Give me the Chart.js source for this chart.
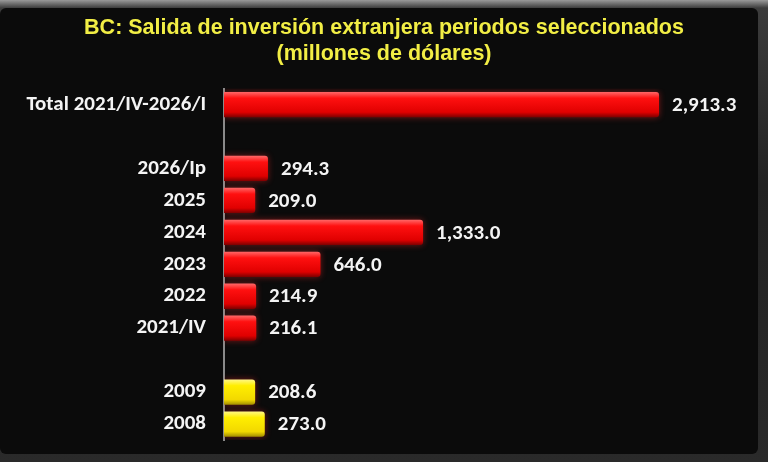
<!DOCTYPE html>
<html>
<head>
<meta charset="utf-8">
<script src="https://cdn.jsdelivr.net/npm/chart.js@4.4.1/dist/chart.umd.min.js"></script>
<style>
  html, body { margin: 0; padding: 0; }
  body {
    width: 768px; height: 462px; overflow: hidden;
    background: linear-gradient(#9a9a9a 0px, #3c3c3c 8px, #222 40%, #2a2a2a 100%);
    position: relative;
  }
  #wrap {
    position: absolute; left: 0; top: 8px; width: 758px; height: 446px;
    background: #0b0b0b; border-radius: 6px;
  }
  #myChart { display: block; }
</style>
</head>
<body>
<div id="wrap"><canvas id="myChart" width="758" height="446"></canvas></div>
<script>
// categories (blank entries are the gaps in the original)
const labels = [
  'Total 2021/IV-2026/I',
  '',
  '2026/Ip',
  '2025',
  '2024',
  '2023',
  '2022',
  '2021/IV',
  '',
  '2009',
  '2008'
];

// millones de dólares
const values = [2913.3, null, 294.3, 209.0, 1333.0, 646.0, 214.9, 216.1, null, 208.6, 273.0];

// which bars are yellow (older periods)
const yellowBars = [false, false, false, false, false, false, false, false, false, true, true];

const titleLines = [
  'BC: Salida de inversión extranjera periodos seleccionados',
  '(millones de dólares)'
];

const fontFace = 'Carlito, Lato, "Open Sans", sans-serif';

function barFill(context) {
  const chart = context.chart;
  const i = context.dataIndex;
  const y = chart.scales.y;
  if (!y || y.top === undefined) return '#e00000';
  const c = y.getPixelForValue(i);
  const half = y.height / labels.length * 0.8 / 2;
  const g = chart.ctx.createLinearGradient(0, c - half, 0, c + half);
  if (yellowBars[i]) {
    g.addColorStop(0, '#fff88a');
    g.addColorStop(0.25, '#ffee00');
    g.addColorStop(0.8, '#f2d800');
    g.addColorStop(1, '#a08a00');
  } else {
    g.addColorStop(0, '#ff6a6a');
    g.addColorStop(0.25, '#ff1010');
    g.addColorStop(0.8, '#e00000');
    g.addColorStop(1, '#7a0000');
  }
  return g;
}

// writes the numbers at the end of each bar
const valueLabels = {
  id: 'valueLabels',
  afterDatasetsDraw(chart) {
    const ctx = chart.ctx;
    const meta = chart.getDatasetMeta(0);
    ctx.save();
    ctx.font = 'bold 21px ' + fontFace;
    ctx.fillStyle = '#f4f4f4';
    ctx.textAlign = 'left';
    ctx.textBaseline = 'middle';
    meta.data.forEach((bar, i) => {
      if (values[i] === null) return;
      const txt = values[i].toLocaleString('en-US', { minimumFractionDigits: 1, maximumFractionDigits: 1 });
      ctx.fillText(txt, bar.x + 13, bar.y + 1);
    });
    ctx.restore();
  }
};

// soft glow under the bars
const barGlow = {
  id: 'barGlow',
  beforeDatasetsDraw(chart) {
    chart.ctx.save();
    chart.ctx.shadowColor = 'rgba(255,40,40,0.45)';
    chart.ctx.shadowBlur = 6;
  },
  afterDatasetsDraw(chart) {
    chart.ctx.restore();
  }
};

const data = {
  labels: labels,
  datasets: [{
    data: values,
    backgroundColor: barFill,
    borderRadius: 3,
    borderSkipped: 'left',
    barPercentage: 0.9,
    categoryPercentage: 0.88
  }]
};

const config = {
  type: 'bar',
  data: data,
  options: {
    indexAxis: 'y',
    responsive: false,
    maintainAspectRatio: false,
    animation: false,
    layout: { padding: { left: 10, right: 0, top: 0, bottom: 14 } },
    plugins: {
      legend: { display: false },
      tooltip: { enabled: false },
      title: {
        display: true,
        text: titleLines,
        color: '#f2ee45',
        font: { family: '"Liberation Sans", Arial, sans-serif', size: 21.5, weight: 'bold', lineHeight: 1.2 },
        padding: { top: 7, bottom: 22 }
      }
    },
    scales: {
      x: {
        display: false,
        min: 0,
        max: 3576
      },
      y: {
        afterFit(scale) {
          scale.width = 214;
          scale.paddingTop = 0;
          scale.paddingBottom = 0;
        },
        grid: { display: false, drawTicks: false },
        border: { display: true, color: '#8a8a8a', width: 2 },
        ticks: {
          color: '#f4f4f4',
          padding: 18,
          font: { family: fontFace, size: 21, weight: 'bold' }
        }
      }
    }
  },
  plugins: [barGlow, valueLabels]
};

const myChart = new Chart(document.getElementById('myChart'), config);
</script>
</body>
</html>
